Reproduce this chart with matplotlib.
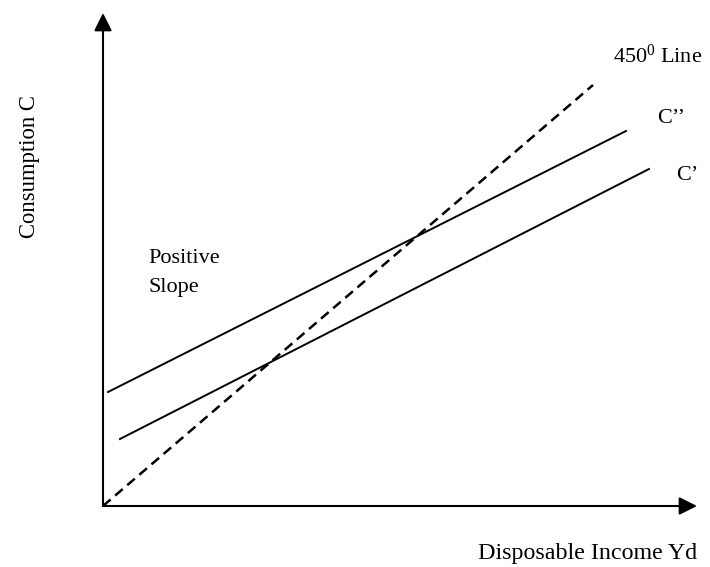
import matplotlib
matplotlib.use('Agg')
import matplotlib.pyplot as plt

plt.rcParams['font.family'] = ['Liberation Serif', 'DejaVu Serif']
plt.rcParams['mathtext.fontset'] = 'custom'
plt.rcParams['mathtext.rm'] = 'Liberation Serif'
plt.rcParams['mathtext.it'] = 'Liberation Serif:italic'

# Data (income on x, consumption on y)
income_45 = [0.0, 49.0]
cons_45 = [0.0, 42.1]
income_c2 = [0.5, 52.3]
cons_c2 = [11.4, 37.5]
income_c1 = [1.7, 54.6]
cons_c1 = [6.7, 33.7]
x_axis_end = 59.4
y_axis_end = 49.3

fig = plt.figure(figsize=(7.1, 5.67), dpi=100)
ax = fig.add_axes([0, 0, 1, 1])
ax.set_xlim(-10.3, 60.7)
ax.set_ylim(-6.1, 50.6)
ax.axis('off')

arrow_kw = dict(arrowstyle='-|>,head_length=0.4,head_width=0.2', color='black',
                lw=1.5, mutation_scale=27, shrinkA=0, shrinkB=0)
ax.annotate('', xy=(0, y_axis_end), xytext=(0, 0), arrowprops=arrow_kw)
ax.annotate('', xy=(x_axis_end, 0), xytext=(0, 0), arrowprops=arrow_kw)

lw_d = 1.8
ax.plot(income_45, cons_45, color='black', lw=lw_d, dashes=(7.2 / lw_d, 4.3 / lw_d))
ax.plot(income_c2, cons_c2, color='black', lw=1.4)
ax.plot(income_c1, cons_c1, color='black', lw=1.4)

fs = 16
ax.text(51.0, 44.3, r'$\mathrm{450^{0}\ Line}$', fontsize=fs, va='baseline', ha='left')
ax.text(55.4, 38.3, 'C’’', fontsize=fs, va='baseline', ha='left')
ax.text(57.3, 32.6, 'C’', fontsize=fs, va='baseline', ha='left')
ax.text(4.5, 24.3, 'Positive', fontsize=fs, va='baseline', ha='left')
ax.text(4.5, 21.4, 'Slope', fontsize=fs, va='baseline', ha='left')
ax.text(-7.3, 33.9, 'Consumption C', fontsize=16.3, rotation=90, va='center', ha='center')
ax.text(37.5, -5.3, 'Disposable Income Yd', fontsize=17.3, va='baseline', ha='left')

fig.savefig('out.png', dpi=100)
